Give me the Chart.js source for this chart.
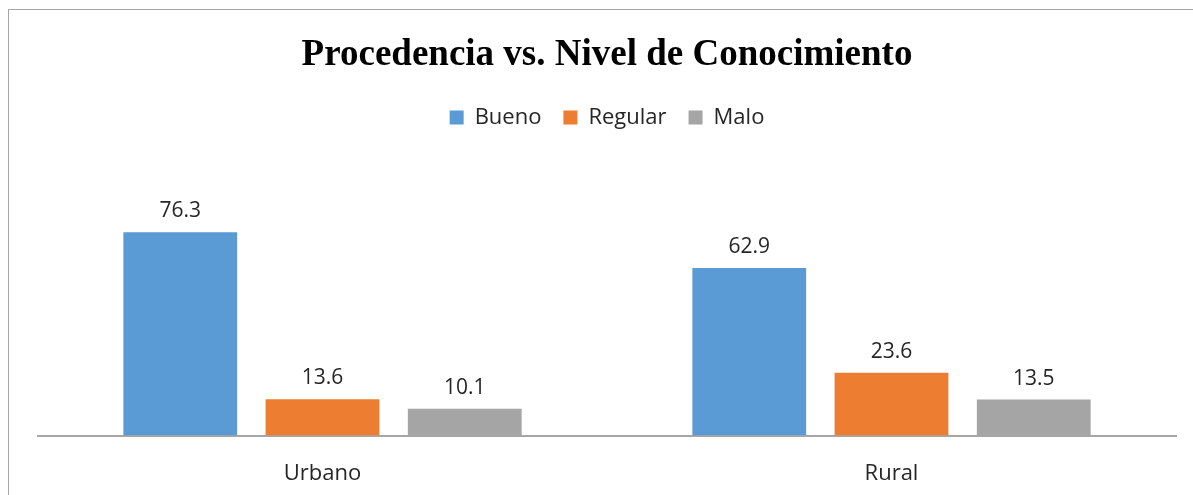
<!DOCTYPE html>
<html>
<head>
<meta charset="utf-8">
<script src="https://cdn.jsdelivr.net/npm/chart.js@4"></script>
<style>
  html, body { margin: 0; padding: 0; background: #fff; }
  #wrap { position: relative; width: 1193px; height: 495px; }
  #frame { position: absolute; left: 8px; top: 9px; width: 1200px; height: 500px;
           border-left: 1px solid #a6a6a6; border-top: 1px solid #a6a6a6; }
  canvas { position: absolute; left: 0; top: 0; }
</style>
</head>
<body>
<div id="wrap">
  <div id="frame"></div>
  <canvas id="canvas1" width="1193" height="495"></canvas>
</div>
<script>
'use strict';

const categories = ['Urbano', 'Rural'];
const bueno = [76.3, 62.9];
const regular = [13.6, 23.6];
const malo = [10.1, 13.5];

const labelFont = '"Open Sans", "Noto Sans", sans-serif';

// values above each bar
const valueLabels = {
    id: 'valueLabels',
    afterDatasetsDraw(chart) {
        let ctx = chart.ctx;
        ctx.save();
        ctx.font = '21px ' + labelFont;
        ctx.fillStyle = '#262626';
        ctx.textAlign = 'center';
        ctx.textBaseline = 'middle';
        chart.data.datasets.forEach((ds, i) => {
            chart.getDatasetMeta(i).data.forEach((bar, j) => {
                ctx.fillText(ds.data[j].toFixed(1), bar.x, bar.y - 21);
            });
        });
        ctx.restore();
    }
};

let canvas1 = document.querySelector('#canvas1');

let chart1 = new Chart(canvas1, {
    type: 'bar',
    data: {
        labels: categories,
        datasets: [
            { label: 'Bueno', data: bueno, backgroundColor: '#5B9BD5' },
            { label: 'Regular', data: regular, backgroundColor: '#ED7D31' },
            { label: 'Malo', data: malo, backgroundColor: '#A5A5A5' },
        ],
    },
    options: {
        responsive: false,
        animation: false,
        categoryPercentage: 0.75,
        barPercentage: 0.8,
        layout: { padding: { left: 38, right: 17, top: 23, bottom: -17 } },
        plugins: {
            title: {
                display: true,
                text: 'Procedencia vs. Nivel de Conocimiento',
                color: '#000',
                font: { family: '"Liberation Serif", "Times New Roman", serif', size: 37, weight: 'bold' },
                padding: { top: 10, bottom: 7 },
            },
            legend: {
                labels: {
                    boxWidth: 14,
                    boxHeight: 14,
                    padding: 22,
                    color: '#262626',
                    font: { family: labelFont, size: 22 },
                },
            },
            tooltip: { enabled: false },
        },
        scales: {
            x: {
                grid: { display: false, drawTicks: false },
                border: { display: true, color: '#a6a6a6', width: 2 },
                ticks: { color: '#262626', font: { family: labelFont, size: 22 }, padding: 25 },
            },
            y: {
                display: false,
                min: 0,
                max: 111.5,
            },
        },
    },
    plugins: [valueLabels],
});
</script>
</body>
</html>
